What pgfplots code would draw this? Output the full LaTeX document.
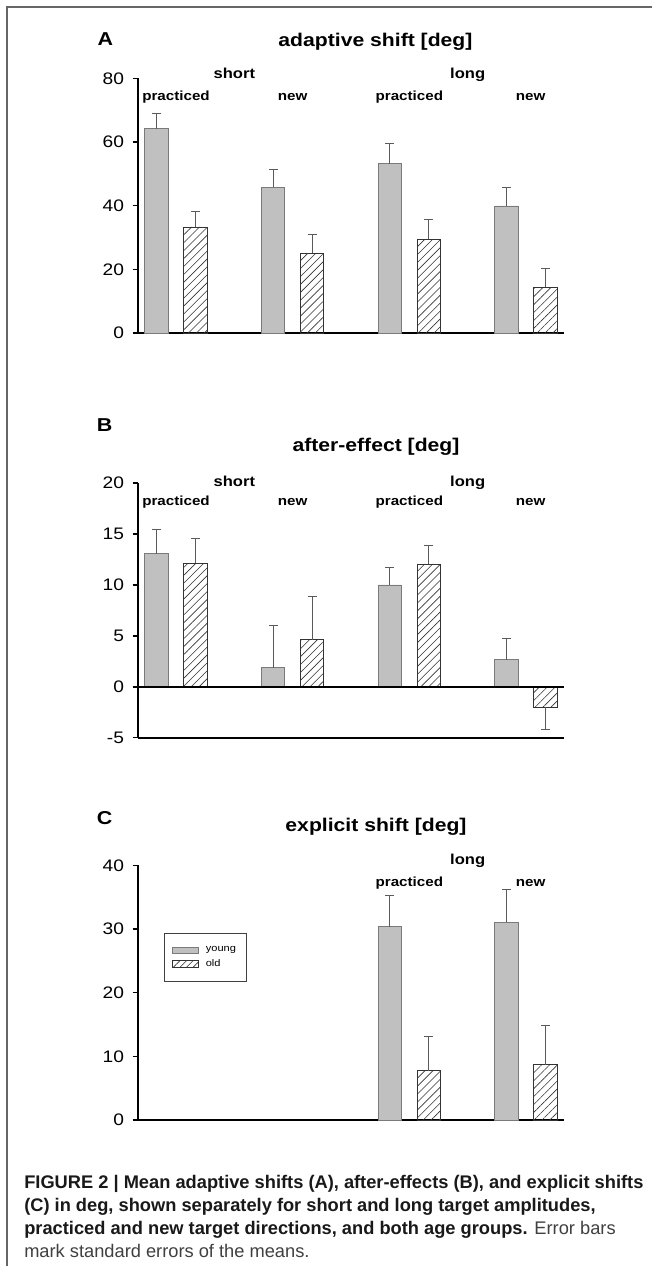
\documentclass[border=0pt]{standalone}
\usepackage{fontspec}
\setmainfont{Liberation Sans}
\usepackage{pgfplots}
\pgfplotsset{compat=1.18}
\usetikzlibrary{patterns.meta}
\newfontfamily\chartfont[FakeStretch=1.15]{Liberation Sans}
\definecolor{youngfill}{HTML}{C0C0C0}
\definecolor{youngdraw}{HTML}{7A7A7A}
\definecolor{errc}{HTML}{5A5A5A}
\definecolor{oldc}{HTML}{333333}

\pgfplotsset{
  panel/.style={
    scale only axis, width=319.5pt, height=191pt,
    xmin=0.674, xmax=4.326,
    axis lines=left, axis line style={-, line width=1.4pt, black},
    xtick=\empty,
    ytick style={line width=1.1pt, black},
    tick align=outside, major tick length=4pt,
    yticklabel style={font=\chartfont\fontsize{12.5}{14}\selectfont, xshift=-3pt},
    /pgf/number format/assume math mode=true,
    clip=false,
  },
  errs/.style={
    /pgfplots/error bars/y dir=plus,
    /pgfplots/error bars/y explicit,
    /pgfplots/error bars/error mark=-,
    /pgfplots/error bars/error bar style={errc, line width=0.7pt},
    /pgfplots/error bars/error mark options={rotate=90, errc, line width=0.7pt, mark size=3.3pt},
  },
  young/.style={ybar, bar width=0.2, bar shift=0pt, fill=youngfill, draw=youngdraw, line width=0.6pt, errs,
    legend image code/.code={\draw[fill=youngfill, draw=youngdraw, line width=0.6pt] (0pt,-2.6pt) rectangle (19.5pt,2.6pt);}},
  old/.style={ybar, bar width=0.2, bar shift=0pt, draw=oldc, line width=0.6pt,
    pattern={Lines[angle=45,distance=4.2pt,line width=0.45pt]}, pattern color=oldc, errs,
    legend image code/.code={\draw[draw=oldc, line width=0.6pt, pattern={Lines[angle=45,distance=3.5pt,line width=0.45pt]}, pattern color=oldc] (0pt,-2.6pt) rectangle (19.5pt,2.6pt);}},
}
\newcommand\grp{\chartfont\bfseries\fontsize{10.8}{12}\selectfont}
\newcommand\sub{\chartfont\bfseries\fontsize{9.9}{11}\selectfont}
\newcommand\ttl{\chartfont\bfseries\fontsize{13.8}{16}\selectfont}
\newcommand\lett{\chartfont\bfseries\fontsize{14}{16}\selectfont}

\pgfplotstableread{
x y e
0.833 64.2 4.7
1.833 45.8 5.7
2.833 53.2 6.3
3.833 39.9 5.7
}\Ayoung
\pgfplotstableread{
x y e
1.167 33.3 5.0
2.167 25.1 5.8
3.167 29.5 6.3
4.167 14.4 5.9
}\Aold
\pgfplotstableread{
x y e
0.833 13.07 2.39
1.833 1.86 4.19
2.833 10.00 1.73
3.833 2.65 2.12
}\Byoung
\pgfplotstableread{
x y e
1.167 12.12 2.46
2.167 4.61 4.28
3.167 12.06 1.80
4.167 -2.03 -2.12
}\Bold
\pgfplotstableread{
x y e
2.833 30.35 4.85
3.833 31.10 5.10
}\Cyoung
\pgfplotstableread{
x y e
3.167 7.74 5.46
4.167 8.70 6.20
}\Cold

\begin{document}
\begin{tikzpicture}
\path[use as bounding box] (0pt,0pt) rectangle (488.25pt,-949.5pt);
\fill[white] (0pt,0pt) rectangle (488.25pt,-949.5pt);
\draw[black!60, line width=1.1pt] (5.25pt,-952pt) -- (5.25pt,-5.25pt) -- (492pt,-5.25pt);

% Panel A
\begin{axis}[panel, at={(103.5pt,-249.75pt)}, anchor=south west,
  ymin=0, ymax=80, ytick={0,20,40,60,80}]
\addplot[young] table[x=x, y=y, y error plus=e] {\Ayoung};
\addplot[old] table[x=x, y=y, y error plus=e] {\Aold};
\node[anchor=base, inner sep=0, font=\grp] at (axis cs:1.5,80) {short};
\node[anchor=base, inner sep=0, font=\grp] at (axis cs:3.5,80) {long};
\node[anchor=base, inner sep=0, font=\sub] at (axis cs:1,73.1) {practiced};
\node[anchor=base, inner sep=0, font=\sub] at (axis cs:2,73.1) {new};
\node[anchor=base, inner sep=0, font=\sub] at (axis cs:3,73.1) {practiced};
\node[anchor=base, inner sep=0, font=\sub] at (axis cs:4.04,73.1) {new};
\end{axis}

% Panel B
\begin{axis}[panel, at={(103.5pt,-553.3pt)}, anchor=south west,
  ymin=-5, ymax=20, ytick={-5,0,5,10,15,20}]
\addplot[young] table[x=x, y=y, y error plus=e] {\Byoung};
\addplot[old] table[x=x, y=y, y error plus=e] {\Bold};
\draw[black, line width=1.1pt] (axis cs:0.674,0) -- (axis cs:4.326,0);
\node[anchor=base, inner sep=0, font=\grp] at (axis cs:1.5,19.7) {short};
\node[anchor=base, inner sep=0, font=\grp] at (axis cs:3.5,19.7) {long};
\node[anchor=base, inner sep=0, font=\sub] at (axis cs:1,17.8) {practiced};
\node[anchor=base, inner sep=0, font=\sub] at (axis cs:2,17.8) {new};
\node[anchor=base, inner sep=0, font=\sub] at (axis cs:3,17.8) {practiced};
\node[anchor=base, inner sep=0, font=\sub] at (axis cs:4.04,17.8) {new};
\end{axis}

% Panel C
\begin{axis}[panel, at={(103.5pt,-840pt)}, anchor=south west,
  ymin=0, ymax=40, ytick={0,10,20,30,40},
  legend cell align=left,
  legend style={at={(rel axis cs:0.061,0.734)}, anchor=north west, draw=black!75, line width=0.6pt,
    font=\chartfont\fontsize{7.2}{8.5}\selectfont, inner xsep=6pt, inner ysep=8pt, row sep=0pt, column sep=3pt}]
\addplot[young] table[x=x, y=y, y error plus=e] {\Cyoung};
\addlegendentry{young}
\addplot[old] table[x=x, y=y, y error plus=e] {\Cold};
\addlegendentry{old}
\node[anchor=base, inner sep=0, font=\grp] at (axis cs:3.5,40.2) {long};
\node[anchor=base, inner sep=0, font=\sub] at (axis cs:3,36.7) {practiced};
\node[anchor=base, inner sep=0, font=\sub] at (axis cs:4.04,36.7) {new};
\end{axis}

% titles and panel letters
\node[anchor=base, inner sep=0, font=\ttl] at (281.6pt,-35.25pt) {adaptive shift [deg]};
\node[anchor=base, inner sep=0, font=\ttl] at (282pt,-338.6pt) {after-effect [deg]};
\node[anchor=base, inner sep=0, font=\ttl] at (282pt,-623.25pt) {explicit shift [deg]};
\node[anchor=base west, inner sep=0, font=\lett] at (73pt,-34.5pt) {A};
\node[anchor=base west, inner sep=0, font=\lett] at (72.5pt,-323.25pt) {B};
\node[anchor=base west, inner sep=0, font=\lett] at (72.5pt,-618pt) {C};

% caption
\begin{scope}[every node/.style={anchor=base west, inner sep=0, font=\fontsize{13.7}{16}\selectfont}]
\node[text=black!90] at (18pt,-891.2pt) {\textbf{FIGURE 2 | Mean adaptive shifts (A), after-effects (B), and explicit shifts}};
\node[text=black!90] at (18pt,-908.25pt) {\textbf{(C) in deg, shown separately for short and long target amplitudes,}};
\node[text=black!90] at (18pt,-925.5pt) {\textbf{practiced and new target directions, and both age groups.} \textcolor{black!75}{Error bars}};
\node[text=black!75] at (18pt,-942.75pt) {mark standard errors of the means.};
\end{scope}
\end{tikzpicture}
\end{document}
